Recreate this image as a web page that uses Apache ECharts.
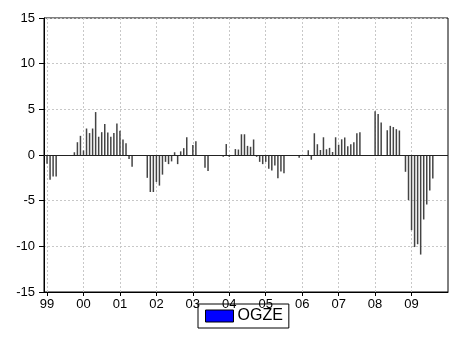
<!DOCTYPE html>
<html>
<head>
<meta charset="utf-8">
<script src="https://cdn.jsdelivr.net/npm/echarts@6/dist/echarts.min.js"></script>
<style>
  html, body { margin: 0; padding: 0; background: #fff; }
  #chart { width: 451px; height: 360px; }
</style>
</head>
<body>
<div id="chart"></div>
<script>
// monthly values, Jan..Dec of each year
const y1999 = [-0.95, -2.7, -2.35, -2.35, 0, 0, 0, 0, 0, 0.3, 1.4, 2.1];
const y2000 = [0.5, 2.9, 2.4, 2.9, 4.7, 2.0, 2.5, 3.4, 2.45, 2.0, 2.4, 3.45];
const y2001 = [2.65, 1.7, 1.3, -0.45, -1.3, 0, 0, 0, 0, -2.5, -4.05, -4.05];
const y2002 = [-2.95, -3.35, -2.15, -0.75, -1.0, -0.7, 0.3, -1.0, 0.4, 0.75, 1.95, 0];
const y2003 = [1.1, 1.5, 0, 0, -1.4, -1.75, 0, 0, 0, 0, -0.2, 1.2];
const y2004 = [-0.2, 0, 0.65, 0.6, 2.27, 2.27, 1.0, 0.9, 1.7, -0.2, -0.75, -1.0];
const y2005 = [-0.75, -1.5, -1.7, -1.15, -2.55, -1.8, -2.0, 0, 0, 0, 0, -0.3];
const y2006 = [-0.05, 0, 0.52, -0.52, 2.38, 1.18, 0.55, 1.94, 0.63, 0.78, 0.33, 1.94];
const y2007 = [1.13, 1.72, 1.92, 0.95, 1.18, 1.4, 2.38, 2.49, 0, 0, 0, 0];
const y2008 = [4.8, 4.5, 3.56, 0, 2.7, 3.19, 3.06, 2.83, 2.68, 0, -1.84, -4.94];
const y2009 = [-8.23, -10.08, -9.77, -10.9, -7.06, -5.42, -3.9, -2.56, 0, 0, 0, 0];

const yearLabels = ['99', '00', '01', '02', '03', '04', '05', '06', '07', '08', '09'];
const yTicks = [-15, -10, -5, 0, 5, 10, 15];

const ogze = [].concat(y1999, y2000, y2001, y2002, y2003, y2004,
                       y2005, y2006, y2007, y2008, y2009);
const yearStarts = yearLabels.map((l, i) => i * 12);

const font = 'Arial, "Liberation Sans", sans-serif';

const chart = echarts.init(document.getElementById('chart'));
chart.setOption({
  animation: false,
  grid: {
    left: 44, right: 3, top: 18, bottom: 68,
    show: true, borderColor: '#000', borderWidth: 1
  },
  legend: {
    left: 198, top: 304,
    padding: [4, 6, 4, 7],
    borderColor: '#000', borderWidth: 1,
    itemWidth: 28, itemHeight: 12, itemGap: 4, icon: 'rect',
    textStyle: { fontFamily: font, fontSize: 16, color: '#000', padding: [0, 0, 0, -1] },
    data: [{ name: 'OGZE', itemStyle: { color: '#0000ff', borderColor: '#000', borderWidth: 1 } }]
  },
  xAxis: {
    type: 'value',
    min: -1, max: 132,
    axisLine: { onZero: false, lineStyle: { color: '#000' } },
    axisTick: { customValues: yearStarts, length: 4, lineStyle: { color: '#000' } },
    axisLabel: {
      customValues: yearStarts,
      formatter: v => yearLabels[Math.round(v / 12)],
      fontFamily: font, fontSize: 13, color: '#000', margin: 6
    },
    splitLine: { show: true, lineStyle: { color: '#c8c8c8', type: [2, 2] } }
  },
  yAxis: {
    type: 'value',
    min: yTicks[0], max: yTicks[yTicks.length - 1], interval: 5,
    axisLine: { show: true, onZero: false, lineStyle: { color: '#000' } },
    axisTick: { show: true, length: 5, lineStyle: { color: '#000' } },
    axisLabel: { fontFamily: font, fontSize: 13, color: '#000', margin: 9 },
    splitLine: { show: true, lineStyle: { color: '#c8c8c8', type: [2, 2] } }
  },
  series: [{
    name: 'OGZE',
    type: 'bar',
    barWidth: 1.5,
    itemStyle: { color: '#444' },
    data: ogze.map((v, i) => [i, v]),
    markLine: {
      silent: true, symbol: 'none', label: { show: false },
      lineStyle: { color: '#222', width: 1, type: 'solid' },
      data: [{ yAxis: 0 }]
    }
  }]
});
</script>
</body>
</html>
